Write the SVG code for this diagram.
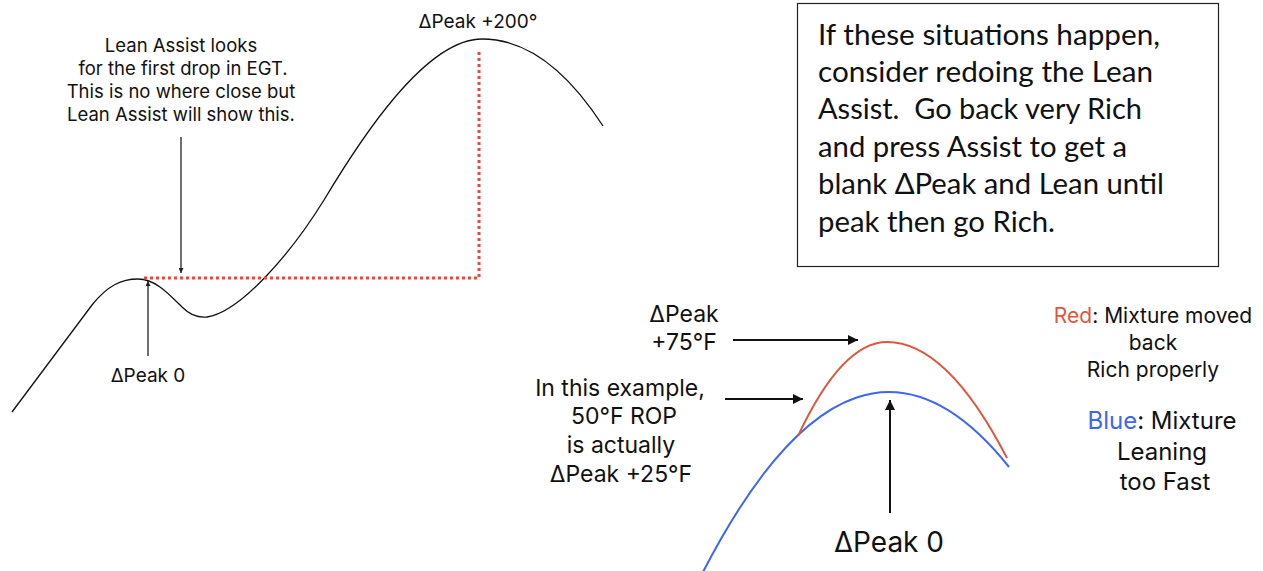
<svg xmlns="http://www.w3.org/2000/svg" width="1263" height="571" viewBox="0 0 1263 571">
<defs>
<style>
.sf{font-family:Inter,"Liberation Sans",sans-serif;fill:#111;text-anchor:middle}
.cal{font-family:Lato,"Liberation Sans",sans-serif;fill:#111;font-size:28px}
.thin{stroke:#222;stroke-width:1.3;fill:none}
.thick{stroke:#111;stroke-width:2;fill:none}
.dot{stroke:#f2443a;stroke-width:3;stroke-dasharray:3 3;fill:none}
</style>
<marker id="hs" viewBox="0 0 10 10" refX="10" refY="5" markerWidth="5" markerHeight="5" orient="auto" markerUnits="userSpaceOnUse">
<path d="M0,0 L10,5 L0,10 z" fill="#222"/>
</marker>
<marker id="hl" viewBox="0 0 10 10" refX="10" refY="5" markerWidth="11" markerHeight="10" orient="auto" markerUnits="userSpaceOnUse">
<path d="M0,0 L10,5 L0,10 z" fill="#111"/>
</marker>
</defs>
<rect width="1263" height="571" fill="#fff"/>

<g id="left-curve">
<path d="M12,412 L92,305 C108,285 122,279 138,279 C155,279 168,293 182,307 C190,315 198,318 207,317 C240,312 290,255 324,200 C360,140 425,39 482,39 C530,39 570,75 603,126" fill="none" stroke="#111" stroke-width="1.3"/>
</g>
<g id="dotted-guide">
<path class="dot" d="M144,278 L479,278 M479,277 L479,49"/>
</g>

<g id="label-peak200"><text class="sf" x="478" y="28" font-size="19">ΔPeak +200°</text></g>
<g id="label-lean-assist">
<text class="sf" font-size="18.5"><tspan x="181" y="52">Lean Assist looks</tspan><tspan x="183" y="75">for the first drop in EGT.</tspan><tspan x="181" y="98">This is no where close but</tspan><tspan x="181" y="121">Lean Assist will show this.</tspan></text>
</g>
<g id="label-peak0-left"><text class="sf" x="148" y="382" font-size="19">ΔPeak 0</text></g>

<g id="note-box">
<rect x="797.5" y="3.5" width="421" height="263" fill="#fff" stroke="#222" stroke-width="1.2"/>
<text class="cal">
<tspan x="818" y="45" textLength="342" lengthAdjust="spacingAndGlyphs">If these situations happen,</tspan>
<tspan x="818" y="82" textLength="335" lengthAdjust="spacingAndGlyphs">consider redoing the Lean</tspan>
<tspan x="818" y="119" textLength="324" lengthAdjust="spacingAndGlyphs" xml:space="preserve">Assist.  Go back very Rich</tspan>
<tspan x="818" y="157" textLength="309" lengthAdjust="spacingAndGlyphs">and press Assist to get a</tspan>
<tspan x="818" y="194" textLength="346" lengthAdjust="spacingAndGlyphs">blank ΔPeak and Lean until</tspan>
<tspan x="818" y="232" textLength="237" lengthAdjust="spacingAndGlyphs">peak then go Rich.</tspan>
</text>
</g>

<g id="blue-curve"><path d="M703,572 Q856,276 1009,467" fill="none" stroke="#3d66f2" stroke-width="2"/></g>
<g id="red-curve"><path d="M798,436 Q842,342 887,342 Q947,342 1007,458" fill="none" stroke="#e0563f" stroke-width="2"/></g>

<g id="label-peak75"><text class="sf" font-size="23"><tspan x="684" y="322">ΔPeak</tspan><tspan x="684" y="350">+75°F</tspan></text></g>
<g id="label-example"><text class="sf" font-size="23"><tspan x="620" y="396">In this example,</tspan><tspan x="624" y="424">50°F ROP</tspan><tspan x="621" y="453">is actually</tspan><tspan x="621" y="482">ΔPeak +25°F</tspan></text></g>
<g id="label-peak0-right"><text class="sf" x="889" y="552" font-size="28">ΔPeak 0</text></g>

<g id="legend">
<text class="sf" font-size="21"><tspan x="1153" y="323"><tspan fill="#e0563f">Red</tspan>: Mixture moved</tspan><tspan x="1153" y="350">back</tspan><tspan x="1153" y="377">Rich properly</tspan></text>
<text class="sf" font-size="24"><tspan x="1162" y="429"><tspan fill="#3d66f2">Blue</tspan>: Mixture</tspan><tspan x="1162" y="460">Leaning</tspan><tspan x="1165" y="490">too Fast</tspan></text>
</g>

<g id="connectors">
<line class="thin" x1="181" y1="137" x2="181" y2="273" marker-end="url(#hs)"/>
<line class="thin" x1="148" y1="356" x2="148" y2="281" marker-end="url(#hs)"/>
<line class="thick" x1="733" y1="340" x2="858" y2="340" marker-end="url(#hl)"/>
<line class="thick" x1="725" y1="399" x2="803" y2="399" marker-end="url(#hl)"/>
<line class="thick" x1="890" y1="513" x2="890" y2="400" marker-end="url(#hl)"/>
</g>
</svg>
